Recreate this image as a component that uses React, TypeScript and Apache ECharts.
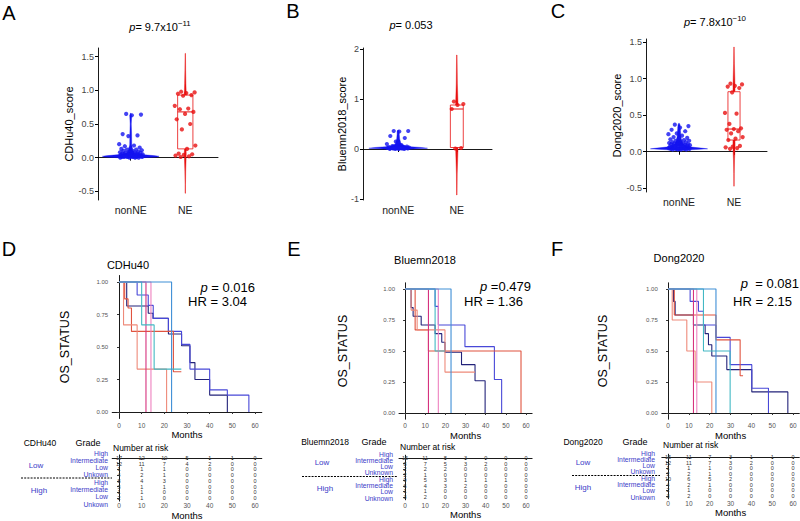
import React, { useEffect, useRef } from "react";
import * as echarts from "echarts";

const FONT = "'Liberation Sans', Arial, Helvetica, sans-serif";

const groupNames = ["nonNE", "NE"];

// ---------- Panel A : CDHu40 score ----------
const scoresA_nonNE = [0.65, 0.64, 0.63, 0.35, 0.33, 0.32, 0.2, 0.18, 0.17, 0.15, 0.14, 0.13, 0.12, 0.12, 0.11, 0.1, 0.1, 0.09, 0.09, 0.08, 0.08, 0.07, 0.07, 0.06, 0.06, 0.06, 0.05, 0.05, 0.05, 0.05, 0.04, 0.04, 0.04, 0.04, 0.03, 0.03, 0.03, 0.03, 0.03, 0.02, 0.02, 0.02, 0.02, 0.02, 0.02, 0.01, 0.01, 0.01, 0.01, 0.01, 0.01, 0.0, 0.0, 0.0, 0.0];
const scoresA_NE = [0.98, 0.97, 0.96, 0.95, 0.93, 0.92, 0.77, 0.73, 0.72, 0.68, 0.65, 0.57, 0.5, 0.42, 0.18, 0.13, 0.06, 0.05, 0.04, 0.03, 0.02, 0.01];
const boxA_nonNE = [0.0, 0.01, 0.02, 0.04, 0.1];
const boxA_NE = [0.01, 0.13, 0.68, 0.93, 0.98];
// violin outline: [score, half width in group units]
const violinA_nonNE = [[-0.01, 0], [0.0, 0.25], [0.01, 0.48], [0.02, 0.52], [0.03, 0.42], [0.045, 0.2], [0.07, 0.07], [0.12, 0.03], [0.2, 0.018], [0.35, 0.016], [0.5, 0.01], [0.62, 0.018], [0.66, 0]];
const violinA_NE = [[-0.53, 0], [-0.4, 0.004], [-0.2, 0.008], [0.0, 0.016], [0.05, 0.018], [0.2, 0.012], [0.5, 0.01], [0.7, 0.012], [0.95, 0.018], [1.1, 0.012], [1.3, 0.007], [1.55, 0]];

// ---------- Panel B : Bluemn2018 score ----------
const scoresB_nonNE = [0.36, 0.36, 0.35, 0.26, 0.22, 0.15, 0.1, 0.08, 0.06, 0.05, 0.05, 0.04, 0.04, 0.03, 0.03, 0.03, 0.02, 0.02, 0.02, 0.02, 0.01, 0.01, 0.01, 0.0, 0.0, 0.0, 0.0];
const scoresB_NE = [0.95, 0.9, 0.88, 0.8, 0.02, 0.01];
const boxB_nonNE = [0.0, 0.01, 0.02, 0.04, 0.08];
const boxB_NE = [0.01, 0.03, 0.8, 0.88, 0.95];
const violinB_nonNE = [[-0.02, 0], [0.0, 0.25], [0.015, 0.5], [0.03, 0.4], [0.05, 0.15], [0.1, 0.05], [0.2, 0.025], [0.3, 0.018], [0.36, 0.018], [0.38, 0]];
const violinB_NE = [[-0.92, 0], [-0.5, 0.007], [0.0, 0.02], [0.4, 0.012], [0.85, 0.022], [1.3, 0.01], [1.88, 0]];

// ---------- Panel C : Dong2020 score ----------
const scoresC_nonNE = [0.37, 0.35, 0.33, 0.3, 0.28, 0.25, 0.24, 0.22, 0.2, 0.19, 0.18, 0.17, 0.16, 0.15, 0.15, 0.14, 0.13, 0.13, 0.12, 0.12, 0.11, 0.11, 0.1, 0.1, 0.1, 0.09, 0.09, 0.09, 0.08, 0.08, 0.08, 0.07, 0.07, 0.07, 0.07, 0.06, 0.06, 0.06, 0.06, 0.05, 0.05, 0.05, 0.05, 0.05, 0.04, 0.04, 0.04, 0.04, 0.04, 0.03, 0.03, 0.03, 0.03];
const scoresC_NE = [0.93, 0.92, 0.9, 0.89, 0.87, 0.81, 0.53, 0.52, 0.38, 0.32, 0.31, 0.3, 0.28, 0.25, 0.2, 0.18, 0.16, 0.08, 0.07, 0.06, 0.05, 0.04];
const boxC_nonNE = [0.02, 0.04, 0.05, 0.08, 0.14];
const boxC_NE = [0.03, 0.16, 0.31, 0.82, 0.93];
const violinC_nonNE = [[0.02, 0], [0.03, 0.3], [0.04, 0.52], [0.05, 0.4], [0.07, 0.15], [0.1, 0.08], [0.15, 0.05], [0.2, 0.035], [0.3, 0.025], [0.37, 0.018], [0.39, 0]];
const violinC_NE = [[-0.47, 0], [-0.3, 0.005], [-0.1, 0.01], [0.05, 0.02], [0.2, 0.018], [0.35, 0.015], [0.6, 0.011], [0.85, 0.019], [1.0, 0.015], [1.2, 0.008], [1.43, 0]];

// ---------- Kaplan-Meier curves: [months, survival] at each step ----------
const kmD_navy = [[0, 1], [3.4, 0.815], [12.9, 0.76], [15, 0.72], [21.8, 0.6], [27.6, 0.51], [31.3, 0.38], [33.5, 0.25], [40, 0.13], [47.8, 0]];
const kmD_blue = [[0, 1], [8, 0.9], [12.9, 0.82], [15.1, 0.72], [21.8, 0.62], [27.6, 0.52], [31.3, 0.33], [40, 0.17], [47.8, 0.13], [57.3, 0]];
const kmD_red = [[0, 1], [2.5, 0.87], [4, 0.8], [5.5, 0.62], [24, 0.31], [27.5, 0.31]];
const kmD_salmon = [[0, 1], [2, 0.67], [8, 0.33], [21, 0]];
const kmD_magenta = [[0, 1], [11.9, 0]];
const kmD_pink = [[0, 1], [14.1, 0]];
const kmD_cyan = [[0, 1], [10, 0.67], [15.5, 0.33], [27.5, 0.33]];
const kmD_steel = [[0, 1], [23.2, 0]];

const kmE_navy = [[0, 1], [3, 0.85], [4, 0.78], [8, 0.71], [14.9, 0.64], [18.2, 0.57], [19.8, 0.49], [28, 0.39], [34.7, 0.26], [39.7, 0]];
const kmE_blue = [[0, 1], [14.9, 0.86], [16.5, 0.71], [29.7, 0.535], [44.3, 0.27], [47.9, 0]];
const kmE_red = [[0, 1], [5, 0.67], [11.6, 0.5], [57.5, 0]];
const kmE_salmon = [[0, 1], [3, 0.83], [6, 0.67], [19.8, 0.33], [34.7, 0.33]];
const kmE_magenta = [[0, 1], [11.6, 0]];
const kmE_pink = [[0, 1], [16.5, 0]];
const kmE_light = [[0, 1], [14.9, 0.5], [19.8, 0.5]];
const kmE_steel = [[0, 1], [22.8, 0]];

const kmF_navy = [[0, 1], [2.6, 0.9], [3.4, 0.79], [12.2, 0.71], [17.8, 0.64], [19.4, 0.55], [21, 0.46], [28.2, 0.35], [40.2, 0.17], [57.5, 0]];
const kmF_blue = [[0, 1], [10.6, 0.9], [14.6, 0.82], [17, 0.71], [23, 0.61], [29.8, 0.39], [40.2, 0.2], [48.2, 0]];
const kmF_red = [[0, 1], [3, 0.79], [23, 0.59], [34.6, 0.3], [36, 0.3]];
const kmF_salmon = [[0, 1], [2, 0.75], [9, 0.5], [13, 0.25], [21, 0]];
const kmF_magenta = [[0, 1], [12.2, 0]];
const kmF_pink = [[0, 1], [13.8, 0]];
const kmF_cyan = [[0, 1], [17, 0.5], [29.8, 0]];
const kmF_steel = [[0, 1], [23, 0]];

const kmColors = ["#23237a", "#4848d8", "#e0533f", "#ee8a7a", "#d6337f", "#ee82bf", "#42b8c4", "#3f8fd6"];

// ---------- Number at risk ----------
const riskMonths = [0, 10, 20, 30, 40, 50, 60];
const riskD = [
  [17, 12, 10, 5, 1, 1, 0],
  [12, 11, 7, 4, 2, 0, 0],
  [1, 1, 1, 0, 0, 0, 0],
  [4, 2, 1, 0, 0, 0, 0],
  [8, 4, 3, 0, 0, 0, 0],
  [3, 1, 1, 0, 0, 0, 0],
  [1, 1, 0, 0, 0, 0, 0],
  [2, 1, 0, 0, 0, 0, 0],
];
const riskE = [
  [15, 11, 8, 3, 0, 0, 0],
  [8, 7, 5, 3, 2, 0, 0],
  [2, 2, 2, 0, 0, 0, 0],
  [2, 1, 0, 0, 0, 0, 0],
  [9, 5, 3, 1, 1, 1, 0],
  [6, 4, 3, 2, 0, 0, 0],
  [1, 1, 0, 0, 0, 0, 0],
  [3, 2, 0, 0, 0, 0, 0],
];
const riskF = [
  [15, 11, 7, 3, 1, 1, 0],
  [12, 11, 7, 3, 2, 0, 0],
  [1, 1, 1, 0, 0, 0, 0],
  [2, 2, 1, 0, 0, 0, 0],
  [10, 6, 5, 2, 0, 0, 0],
  [4, 2, 1, 0, 0, 0, 0],
  [2, 1, 0, 0, 0, 0, 0],
  [3, 2, 0, 0, 0, 0, 0],
];
const gradesDF = ["High", "Intermediate", "Low", "Unkown"];
const gradesE = ["High", "Intermediate", "Low", "Unknown"];
const survTicks = [0, 0.25, 0.5, 0.75, 1];

const BLUE_PT = "#1414f0";
const RED_PT = "#e81010";
const LABEL_BLUE = "#3c3cc8";

function jitter(i: number, spread: number) {
  return (((i * 0.6180339887 + 0.31) % 1) - 0.5) * 2 * spread;
}

function violinSeries(gi: number, cat: number, prof: number[][], color: string) {
  return {
    type: "custom", xAxisIndex: gi, yAxisIndex: gi, data: [[cat, 0]], z: 1, silent: true,
    renderItem: (_p: any, api: any) => {
      const right = prof.map(([v, w]) => api.coord([cat + Math.max(w, 0.004), v]));
      const left = prof.slice().reverse().map(([v, w]) => api.coord([cat - Math.max(w, 0.004), v]));
      return { type: "polygon", shape: { points: right.concat(left) }, style: { fill: color, stroke: color, lineWidth: 0.4 } };
    },
  };
}

function boxSeries(gi: number, cat: number, b: number[], color: string, hw: number) {
  return {
    type: "custom", xAxisIndex: gi, yAxisIndex: gi, data: [[cat, b[2]]], z: 2, silent: true,
    renderItem: (_p: any, api: any) => {
      const [mn, q1, md, q3, mx] = b;
      const c = (x: number, v: number) => api.coord([x, v]);
      const tl = c(cat - hw, q3), br = c(cat + hw, q1);
      const st = { stroke: color, lineWidth: 0.8, fill: null };
      return {
        type: "group",
        children: [
          { type: "line", shape: { x1: c(cat, q3)[0], y1: c(cat, q3)[1], x2: c(cat, mx)[0], y2: c(cat, mx)[1] }, style: st },
          { type: "line", shape: { x1: c(cat, q1)[0], y1: c(cat, q1)[1], x2: c(cat, mn)[0], y2: c(cat, mn)[1] }, style: st },
          { type: "rect", shape: { x: tl[0], y: tl[1], width: br[0] - tl[0], height: Math.max(br[1] - tl[1], 0.5) }, style: { fill: "#ffffff", stroke: color, lineWidth: 0.8 } },
          { type: "line", shape: { x1: c(cat - hw, md)[0], y1: c(cat - hw, md)[1], x2: c(cat + hw, md)[0], y2: c(cat + hw, md)[1] }, style: { stroke: color, lineWidth: 1 } },
        ],
      };
    },
  };
}

function pointSeries(gi: number, cat: number, vals: number[], color: string, spread: number) {
  return {
    type: "scatter", xAxisIndex: gi, yAxisIndex: gi, z: 3, silent: true,
    symbolSize: 4.2, itemStyle: { color },
    data: vals.map((v, i) => [cat + jitter(i, spread), v]),
  };
}

function kmSeries(gi: number, curves: number[][][]) {
  return curves.map((d, k) => ({
    type: "line", xAxisIndex: gi, yAxisIndex: gi, step: "end", showSymbol: false, symbol: "none",
    silent: true, data: d, lineStyle: { width: 1.1, color: kmColors[k] }, z: 2,
  }));
}

function riskSeries(gi: number, rows: number[][]) {
  const data: number[][] = [];
  rows.forEach((r, ri) => r.forEach((n, ci) => data.push([riskMonths[ci], ri, n])));
  return {
    type: "custom", xAxisIndex: gi, yAxisIndex: gi, data, silent: true,
    renderItem: (_p: any, api: any) => {
      const pt = api.coord([api.value(0), api.value(1)]);
      return { type: "text", x: pt[0], y: pt[1], style: { text: String(api.value(2)), fontSize: 5.5, fontFamily: FONT, fill: "#333", align: "center", verticalAlign: "middle" } };
    },
  };
}

const axisLineBlack = { show: true, lineStyle: { color: "#000", width: 0.9 } };

function violinX(gi: number) {
  return {
    type: "value", gridIndex: gi, min: 0.4, max: 2.6,
    axisLine: axisLineBlack,
    axisTick: { show: true, length: 3, customValues: [1, 2], lineStyle: { color: "#000" } },
    axisLabel: { customValues: [1, 2], margin: 4, fontSize: 10.5, color: "#222", fontFamily: FONT, formatter: (v: number) => groupNames[Math.round(v) - 1] },
    splitLine: { show: false },
  };
}
function violinY(gi: number, min: number, max: number, ticks: number[], dec: number, name: string, gap: number) {
  return {
    type: "value", gridIndex: gi, min, max,
    name, nameLocation: "middle", nameGap: gap, nameTextStyle: { fontSize: 11, color: "#000", fontFamily: FONT },
    axisLine: axisLineBlack,
    axisTick: { show: true, length: 3, customValues: ticks, lineStyle: { color: "#000" } },
    axisLabel: { customValues: ticks, margin: 4, fontSize: 9, color: "#444", fontFamily: FONT, formatter: (v: number) => v.toFixed(dec) },
    splitLine: { show: false },
  };
}
function kmX(gi: number, gap: number, margin: number) {
  return {
    type: "value", gridIndex: gi, min: -3, max: 63,
    name: "Months", nameLocation: "middle", nameGap: gap, nameTextStyle: { fontSize: 9.5, color: "#000", fontFamily: FONT },
    axisLine: axisLineBlack,
    axisTick: { show: true, length: 2, customValues: riskMonths, lineStyle: { color: "#333" } },
    axisLabel: { customValues: riskMonths, margin, fontSize: 6.5, color: "#555", fontFamily: FONT },
    splitLine: { show: false },
  };
}
function kmY(gi: number, gap: number) {
  return {
    type: "value", gridIndex: gi, min: -0.05, max: 1.05,
    name: "OS_STATUS", nameLocation: "middle", nameGap: gap, nameTextStyle: { fontSize: 12.5, color: "#000", fontFamily: FONT },
    axisLine: axisLineBlack,
    axisTick: { show: true, length: 2, customValues: survTicks, lineStyle: { color: "#333" } },
    axisLabel: { customValues: survTicks, margin: 4, fontSize: 6, color: "#555", fontFamily: FONT, formatter: (v: number) => v.toFixed(2) },
    splitLine: { show: false },
  };
}
function riskY(gi: number) {
  return {
    type: "value", gridIndex: gi, min: -0.5, max: 7.5, inverse: true,
    axisLine: axisLineBlack,
    axisTick: { show: true, length: 2, customValues: [0, 1, 2, 3, 4, 5, 6, 7], lineStyle: { color: "#333" } },
    axisLabel: { show: false },
    splitLine: { show: false },
  };
}

function txt(x: number, y: number, text: string, size: number, opts: any = {}) {
  return {
    type: "text", x, y, silent: true,
    style: { text, fontSize: size, fontFamily: FONT, fill: opts.fill || "#000", align: opts.align || "center", verticalAlign: "middle", fontStyle: opts.fontStyle || "normal" },
  };
}
function richTxt(x: number, y: number, text: string, size: number, align: string) {
  return {
    type: "text", x, y, silent: true,
    style: {
      text, fontSize: size, fontFamily: FONT, fill: "#000", align, verticalAlign: "middle",
      rich: {
        i: { fontStyle: "italic", fontSize: size, fontFamily: FONT, lineHeight: size + 5 },
        n: { fontSize: size, fontFamily: FONT, lineHeight: size + 5 },
        s: { fontSize: size * 0.72, fontFamily: FONT, verticalAlign: "top", lineHeight: size * 0.72 },
      },
    },
  };
}

function tableLabels(cfg: any) {
  const out: any[] = [];
  out.push(txt(cfg.nameX, cfg.headY, cfg.name, 8.5));
  out.push(txt(cfg.gradeX, cfg.headY, "Grade", 9));
  out.push(txt(cfg.narX, cfg.narY, "Number at risk", 8.5, { align: "left" }));
  const step = (cfg.lastY - cfg.firstY) / 7;
  cfg.grades.forEach((g: string, i: number) => {
    out.push(txt(cfg.labRight, cfg.firstY + i * step, g, 6.8, { align: "right", fill: LABEL_BLUE }));
    out.push(txt(cfg.labRight, cfg.firstY + (i + 4) * step, g, 6.8, { align: "right", fill: LABEL_BLUE }));
  });
  out.push(txt(cfg.lowX, cfg.lowY, "Low", 8, { fill: LABEL_BLUE }));
  out.push(txt(cfg.highX, cfg.highY, "High", 8, { fill: LABEL_BLUE }));
  out.push({ type: "line", silent: true, shape: { x1: cfg.dashX1, y1: cfg.dashY, x2: cfg.dashX2, y2: cfg.dashY }, style: { stroke: "#000", lineWidth: 1, lineDash: [2, 1.2] } });
  return out;
}

export default function App() {
  const ref = useRef<HTMLDivElement>(null);
  useEffect(() => {
    document.body.style.margin = "0";
    const chart = echarts.init(ref.current!, undefined, { renderer: "svg" });
    const option: any = {
      animation: false,
      backgroundColor: "#ffffff",
      textStyle: { fontFamily: FONT },
      grid: [
        { left: 98, top: 48, width: 120, height: 152 },
        { left: 363, top: 48, width: 129, height: 152 },
        { left: 646, top: 39, width: 121, height: 153 },
        { left: 112.2, top: 275.5, width: 149.6, height: 143 },
        { left: 399, top: 282.8, width: 133.1, height: 136.4 },
        { left: 661.8, top: 282.8, width: 137.5, height: 136.4 },
        { left: 112.2, top: 455, width: 149.6, height: 50.3 },
        { left: 399, top: 455.2, width: 133.1, height: 44.6 },
        { left: 661.8, top: 454.2, width: 137.5, height: 44.6 },
      ],
      xAxis: [
        violinX(0), violinX(1), violinX(2),
        kmX(3, 9, 3), kmX(4, 9, 3), kmX(5, 9, 3),
        kmX(6, 6, 1), kmX(7, 7, 2), kmX(8, 6, 1),
      ],
      yAxis: [
        violinY(0, -0.63, 1.63, [-0.5, 0, 0.5, 1, 1.5], 1, "CDHu40_score", 20),
        violinY(1, -1.02, 2.02, [-1, 0, 1, 2], 0, "Bluemn2018_score", 14),
        violinY(2, -0.55, 1.54, [-0.5, 0, 0.5, 1, 1.5], 1, "Dong2020_score", 23),
        kmY(3, 41), kmY(4, 50), kmY(5, 52),
        riskY(6), riskY(7), riskY(8),
      ],
      series: [
        violinSeries(0, 1, violinA_nonNE, BLUE_PT), violinSeries(0, 2, violinA_NE, RED_PT),
        boxSeries(0, 1, boxA_nonNE, BLUE_PT, 0.14), boxSeries(0, 2, boxA_NE, RED_PT, 0.14),
        pointSeries(0, 1, scoresA_nonNE, BLUE_PT, 0.22), pointSeries(0, 2, scoresA_NE, RED_PT, 0.2),

        violinSeries(1, 1, violinB_nonNE, BLUE_PT), violinSeries(1, 2, violinB_NE, RED_PT),
        boxSeries(1, 1, boxB_nonNE, BLUE_PT, 0.11), boxSeries(1, 2, boxB_NE, RED_PT, 0.11),
        pointSeries(1, 1, scoresB_nonNE, BLUE_PT, 0.2), pointSeries(1, 2, scoresB_NE, RED_PT, 0.13),

        violinSeries(2, 1, violinC_nonNE, BLUE_PT), violinSeries(2, 2, violinC_NE, RED_PT),
        boxSeries(2, 1, boxC_nonNE, BLUE_PT, 0.11), boxSeries(2, 2, boxC_NE, RED_PT, 0.11),
        pointSeries(2, 1, scoresC_nonNE, BLUE_PT, 0.2), pointSeries(2, 2, scoresC_NE, RED_PT, 0.17),

        ...kmSeries(3, [kmD_navy, kmD_blue, kmD_red, kmD_salmon, kmD_magenta, kmD_pink, kmD_cyan, kmD_steel]),
        ...kmSeries(4, [kmE_navy, kmE_blue, kmE_red, kmE_salmon, kmE_magenta, kmE_pink, kmE_light, kmE_steel]),
        ...kmSeries(5, [kmF_navy, kmF_blue, kmF_red, kmF_salmon, kmF_magenta, kmF_pink, kmF_cyan, kmF_steel]),

        riskSeries(6, riskD), riskSeries(7, riskE), riskSeries(8, riskF),
      ],
      graphic: [
        txt(9, 13, "A", 20), txt(293, 11, "B", 20), txt(558, 11, "C", 20),
        txt(9, 249, "D", 20), txt(294, 249, "E", 20), txt(557, 249, "F", 20),
        richTxt(160, 27, "{i|p}{n|= 9.7x10}{s|−11}", 11, "center"),
        richTxt(411, 25, "{i|p}{n|= 0.053}", 11, "center"),
        richTxt(715, 22, "{i|p}{n|= 7.8x10}{s|−10}", 11, "center"),
        txt(128, 265, "CDHu40", 11), txt(425, 260, "Bluemn2018", 11), txt(679, 258, "Dong2020", 11),
        richTxt(255, 287, "{i|p}{n| = 0.016}", 13, "right"),
        richTxt(247, 301, "{n|HR = 3.04}", 13, "right"),
        richTxt(531, 286, "{i|p}{n| =0.479}", 13, "right"),
        richTxt(523, 301, "{n|HR = 1.36}", 13, "right"),
        richTxt(799, 283, "{i|p}{n|  = 0.081}", 13, "right"),
        richTxt(792, 301, "{n|HR = 2.15}", 13, "right"),
        ...tableLabels({ name: "CDHu40", nameX: 40, gradeX: 88, headY: 443, narX: 113, narY: 448, grades: gradesDF, labRight: 108, firstY: 453, lastY: 504, lowX: 36, lowY: 465, highX: 39, highY: 490, dashX1: 21, dashX2: 112, dashY: 478 }),
        ...tableLabels({ name: "Bluemn2018", nameX: 325, gradeX: 374, headY: 442, narX: 400, narY: 447, grades: gradesE, labRight: 393, firstY: 454, lastY: 498, lowX: 322, lowY: 462, highX: 325, highY: 488, dashX1: 302, dashX2: 398, dashY: 476.5 }),
        ...tableLabels({ name: "Dong2020", nameX: 583, gradeX: 635, headY: 442, narX: 663, narY: 445, grades: gradesDF, labRight: 655, firstY: 453, lastY: 497, lowX: 583, lowY: 462, highX: 583, highY: 487, dashX1: 572, dashX2: 660, dashY: 475.5 }),
      ],
    };
    chart.setOption(option);
    return () => chart.dispose();
  }, []);
  return <div ref={ref} style={{ position: "fixed", left: 0, top: 0, width: 800, height: 521 }} />;
}
